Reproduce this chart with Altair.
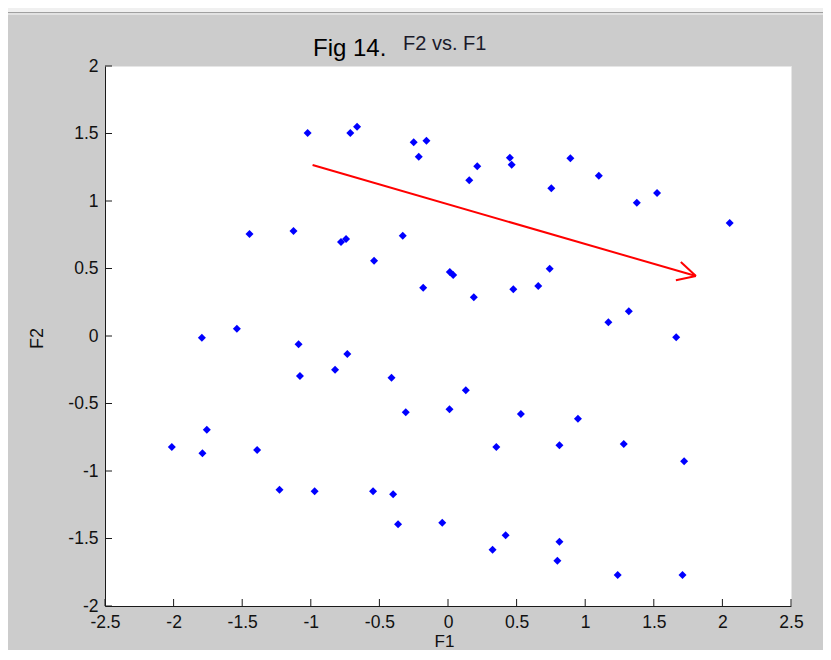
import altair as alt
import pandas as pd

# ---- data ----
F1 = [-1.023, -0.712, -0.663, -0.250, -0.157, -0.213, -1.447, -1.126, -0.780, -0.743,
      -0.330, -0.539, -0.181, 0.013, 0.038, -1.794, -1.539, 0.188, 0.476, 0.658,
      0.741, 0.155, 0.213, 0.451, 0.464, 0.892, 1.099, 0.753, 1.376, 1.524,
      2.053, 1.318, 1.169, 1.663, -1.089, -1.079, -0.734, -0.823, -0.412, -0.308,
      0.011, -2.013, -1.790, -1.758, -1.391, -1.228, -0.972, -0.546, -0.400, -0.364,
      -0.042, 0.130, 0.531, 0.947, 0.352, 0.812, 1.281, 1.721, 0.420, 0.325,
      0.812, 0.797, 1.237, 1.709]
F2 = [1.504, 1.504, 1.550, 1.435, 1.447, 1.328, 0.756, 0.778, 0.696, 0.719,
      0.743, 0.558, 0.358, 0.474, 0.452, -0.013, 0.054, 0.287, 0.346, 0.370,
      0.499, 1.153, 1.257, 1.321, 1.269, 1.316, 1.187, 1.094, 0.987, 1.059,
      0.837, 0.183, 0.101, -0.010, -0.061, -0.296, -0.133, -0.250, -0.309, -0.565,
      -0.543, -0.822, -0.869, -0.694, -0.844, -1.139, -1.150, -1.150, -1.173, -1.395,
      -1.383, -0.402, -0.578, -0.613, -0.822, -0.810, -0.800, -0.928, -1.476, -1.583,
      -1.524, -1.664, -1.770, -1.770]

x_ticks = [-2.5, -2, -1.5, -1, -0.5, 0, 0.5, 1, 1.5, 2, 2.5]
y_ticks = [-2, -1.5, -1, -0.5, 0, 0.5, 1, 1.5, 2]

# arrow: shaft start, tip, and two barb ends
arrow_start = (-0.987, 1.267)
arrow_tip = (1.807, 0.444)
barb_ends_x = [1.697, 1.661]
barb_ends_y = [0.548, 0.413]

pts = pd.DataFrame({"F1": F1, "F2": F2})
arrow = pd.DataFrame({
    "x": [arrow_start[0], arrow_tip[0], arrow_tip[0]],
    "y": [arrow_start[1], arrow_tip[1], arrow_tip[1]],
    "x2": [arrow_tip[0], barb_ends_x[0], barb_ends_x[1]],
    "y2": [arrow_tip[1], barb_ends_y[0], barb_ends_y[1]],
})
xt = pd.DataFrame({"v": x_ticks})
yt = pd.DataFrame({"v": y_ticks})
one = pd.DataFrame({"a": [0]})

W, H = 686, 540
PAD = {"left": 97, "top": 58, "right": 32, "bottom": 44}
FONT = "Liberation Sans"

xscale = alt.Scale(domain=[-2.5, 2.5], nice=False, zero=False)
yscale = alt.Scale(domain=[-2, 2], nice=False, zero=False)

xaxis = alt.Axis(values=x_ticks, labelExpr="'' + datum.value", ticks=False, tickSize=0,
                 labelPadding=7, labelFlush=False, grid=False,
                 domainColor="#1a1a1a", domainWidth=1,
                 labelFont=FONT, labelFontSize=17.5, labelColor="#111111",
                 title="F1", titleFont=FONT, titleFontSize=17, titleFontWeight="normal",
                 titleColor="#111111", titleX=339, titleY=40, titleAlign="center",
                 titleBaseline="alphabetic")
yaxis = alt.Axis(values=y_ticks, labelExpr="'' + datum.value", ticks=False, tickSize=0,
                 labelPadding=7, labelFlush=False, grid=False,
                 domainColor="#1a1a1a", domainWidth=1,
                 labelFont=FONT, labelFontSize=17.5, labelColor="#111111",
                 title="F2", titleFont=FONT, titleFontSize=18, titleFontWeight="normal",
                 titleColor="#111111", titleX=-67.5, titleY=272, titleAlign="center",
                 titleBaseline="middle", titleAngle=-90)

points = alt.Chart(pts).mark_point(shape="diamond", filled=True, size=64,
                                   color="#0000ff", opacity=1).encode(
    x=alt.X("F1:Q", scale=xscale, axis=xaxis),
    y=alt.Y("F2:Q", scale=yscale, axis=yaxis),
)

arrow_layer = alt.Chart(arrow).mark_rule(color="#ff0000", strokeWidth=2).encode(
    x=alt.X("x:Q", scale=xscale), y=alt.Y("y:Q", scale=yscale),
    x2="x2:Q", y2="y2:Q",
)

xtick_layer = alt.Chart(xt).mark_rule(color="#1a1a1a", strokeWidth=1).encode(
    x=alt.X("v:Q", scale=xscale), y=alt.value(H), y2=alt.value(H - 7),
)
ytick_layer = alt.Chart(yt).mark_rule(color="#1a1a1a", strokeWidth=1).encode(
    y=alt.Y("v:Q", scale=yscale), x=alt.value(0), x2=alt.value(7),
)

title1 = alt.Chart(one).mark_text(text="Fig 14.", font=FONT, fontSize=24, color="#000000",
                                  align="left", baseline="alphabetic").encode(
    x=alt.value(208), y=alt.value(-10))
title2 = alt.Chart(one).mark_text(text="F2 vs. F1", font=FONT, fontSize=20, color="#1a1a2a",
                                  align="left", baseline="alphabetic").encode(
    x=alt.value(298), y=alt.value(-16))

# window strip at top of the figure
left_edge = -PAD["left"]
right_edge = W + PAD["right"]
strip = alt.Chart(one).mark_rect(color="#f0f0f0").encode(
    x=alt.value(left_edge), x2=alt.value(right_edge), y=alt.value(-58), y2=alt.value(-54))
strip_line = alt.Chart(one).mark_rect(color="#a0a0a0").encode(
    x=alt.value(left_edge), x2=alt.value(right_edge), y=alt.value(-54), y2=alt.value(-53))
strip_line2 = alt.Chart(one).mark_rect(color="#e2e2e2").encode(
    x=alt.value(left_edge), x2=alt.value(right_edge), y=alt.value(-53), y2=alt.value(-51))

chart = alt.layer(
    strip, strip_line, strip_line2, points, arrow_layer, xtick_layer, ytick_layer, title1, title2
).properties(
    width=W, height=H,
    autosize=alt.AutoSizeParams(type="none"),
    padding=PAD,
    background="#cccccc",
).configure_view(fill="#ffffff", stroke="#e6e6e6", strokeWidth=1)

chart.save("out.html", embed_options={"renderer": "svg", "actions": False})
